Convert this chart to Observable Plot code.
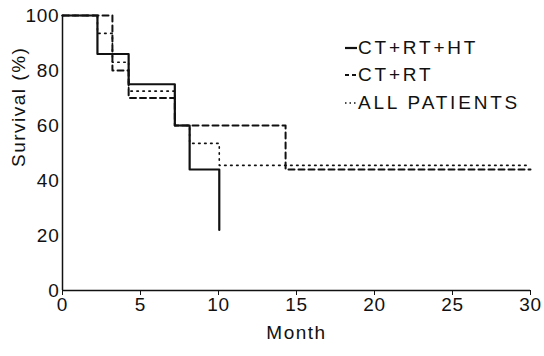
<!DOCTYPE html>
<html>
<head>
<meta charset="utf-8">
<script src="https://cdn.jsdelivr.net/npm/d3@7"></script>
<script src="https://cdn.jsdelivr.net/npm/@observablehq/plot@0.6"></script>
<style>
  html, body { margin: 0; padding: 0; background: #fff; }
  #wrap { position: relative; width: 544px; height: 356px; font-family: "Liberation Sans", Arial, Helvetica, sans-serif; }
  #chart svg text { font-size: 19px !important; letter-spacing: 0.8px; fill: #111; }
  #chart svg text.lbl { letter-spacing: 1.5px; }
  #legend { position: absolute; left: 344px; top: 34px; font-size: 19px; letter-spacing: 2.8px; color: #111; }
  #legend .row { display: flex; align-items: center; height: 27.5px; }
  #legend svg { width: 14px; height: 10px; margin-right: 0px; }
</style>
</head>
<body>
<div id="wrap">
  <div id="chart"></div>
  <div id="legend"></div>
</div>
<script>
// Data (Kaplan–Meier style step curves)
const seriesNames = ["CT+RT+HT", "CT+RT", "ALL PATIENTS"];
const ctRtHtMonths = [0, 2.24, 4.24, 7.2, 8.15, 10.05];
const ctRtHtSurv   = [100, 86, 75, 60, 44, 22];
const ctRtMonths   = [0, 3.2, 4.24, 7.2, 14.3, 30];
const ctRtSurv     = [100, 80, 70, 60, 44, 44];
const allMonths    = [0, 2.24, 3.2, 4.24, 7.2, 8.15, 10.05, 30];
const allSurv      = [100, 93.5, 83, 72.5, 60, 53.5, 45.5, 45.5];
const xTicks = [0, 5, 10, 15, 20, 25, 30];
const yTicks = [0, 20, 40, 60, 80, 100];

const toRows = (ms, vs) => ms.map((m, i) => ({month: m, surv: vs[i]}));
const styles = [
  {strokeWidth: 2.2},
  {strokeWidth: 2, strokeDasharray: "6,4"},
  {strokeWidth: 1.6, strokeDasharray: "1.5,4.5"}
];

const fontFamily = '"Liberation Sans", Arial, Helvetica, sans-serif';

const chart = Plot.plot({
  width: 544,
  height: 356,
  marginLeft: 62,
  marginRight: 14,
  marginTop: 15,
  marginBottom: 66,
  style: {fontFamily, fontSize: "19px", color: "#111", background: "#fff"},
  x: {domain: [0, 30], ticks: xTicks, label: null},
  y: {domain: [0, 100], ticks: yTicks, label: null},
  marks: [
    Plot.axisX({ticks: xTicks, tickSize: 5, tickPadding: 2, label: null}),
    Plot.axisY({ticks: yTicks, tickSize: 0, tickPadding: 3, label: null}),
    Plot.ruleX([0], {stroke: "#111", strokeWidth: 1.5}),
    Plot.ruleY([0], {stroke: "#111", strokeWidth: 1.5}),
    Plot.line(toRows(allMonths, allSurv), {x: "month", y: "surv", curve: "step-after", stroke: "#111", ...styles[2]}),
    Plot.line(toRows(ctRtMonths, ctRtSurv), {x: "month", y: "surv", curve: "step-after", stroke: "#111", ...styles[1]}),
    Plot.line(toRows(ctRtHtMonths, ctRtHtSurv), {x: "month", y: "surv", curve: "step-after", stroke: "#111", ...styles[0]}),
    Plot.text(["Month"], {frameAnchor: "bottom", dy: 48, fill: "#111"}),
    Plot.text(["Survival (%)"], {frameAnchor: "left", dx: -44, dy: 14, rotate: -90, fill: "#111"})
  ]
});
chart.querySelectorAll("g[aria-label='text'] text").forEach(t => t.classList.add("lbl"));
document.getElementById("chart").appendChild(chart);

// Legend (real text with line samples)
const legend = d3.select("#legend");
seriesNames.forEach((name, i) => {
  const row = legend.append("div").attr("class", "row");
  const svg = row.append("svg");
  svg.append("line").attr("x1", 1).attr("x2", 13).attr("y1", 5).attr("y2", 5)
    .attr("stroke", "#111").attr("stroke-width", styles[i].strokeWidth)
    .attr("stroke-dasharray", i === 1 ? "4,3" : i === 2 ? "1.5,3" : null);
  row.append("span").text(name);
});
</script>
</body>
</html>
